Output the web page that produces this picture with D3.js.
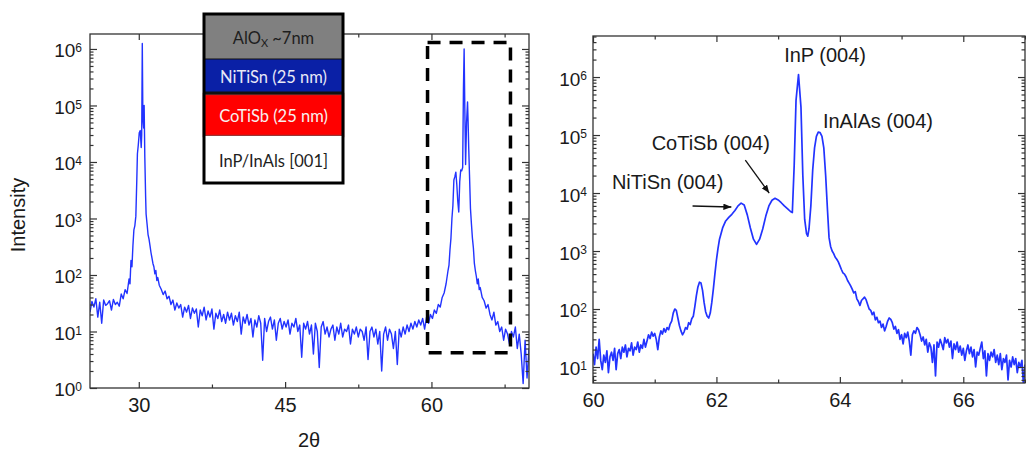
<!DOCTYPE html>
<html>
<head>
<meta charset="utf-8">
<script src="https://cdn.jsdelivr.net/npm/d3@7"></script>
<style>
  body { margin: 0; background: #fff; }
  text { font-family: "Liberation Sans", Arial, sans-serif; fill: #1a1a1a; }
</style>
</head>
<body>
<script>
// ---- data ----
// wide 2θ scan: [2θ, counts]
const surveyScan = [
  [25.0,22],[25.2,34],[25.4,27],[25.6,38],[25.8,18],[26.0,33],[26.2,14],[26.4,36],[26.6,29],[26.8,31],
  [27.0,35],[27.2,24],[27.4,37],[27.6,30],[27.8,33],[28.0,28],[28.2,46],[28.4,38],[28.6,55],[28.8,47],
  [29.0,85],[29.1,70],[29.2,180],[29.3,140],[29.4,330],[29.5,630],[29.6,750],[29.7,1100],[29.8,5000],[29.86,14000],
  [29.95,20000],[30.05,33000],[30.15,36000],[30.25,18000],[30.3,30000],[30.36,1250000],[30.42,60000],[30.5,40000],[30.55,100000],[30.62,12000],
  [30.7,2500],[30.75,1200],[30.85,800],[30.95,520],[31.05,430],[31.15,330],[31.25,250],[31.35,200],[31.45,160],[31.55,140],
  [31.65,105],[31.75,120],[31.85,80],[31.95,90],[32.1,66],[32.3,56],[32.5,45],[32.7,52],[32.9,38],[33.1,42],
  [33.3,30],[33.5,36],[33.7,24],[33.9,32],[34.1,26],[34.3,30],[34.5,18],[34.7,27],[34.9,22],[35.1,29],
  [35.3,17],[35.5,26],[35.7,21],[35.9,25],[36.1,12],[36.3,24],[36.5,19],[36.7,27],[36.9,16],[37.1,23],
  [37.3,18],[37.5,25],[37.7,11],[37.9,21],[38.1,17],[38.3,24],[38.5,15],[38.7,20],[38.9,14],[39.1,22],
  [39.3,16],[39.5,21],[39.7,13],[39.9,19],[40.1,15],[40.3,22],[40.5,9],[40.7,18],[40.9,14],[41.1,20],
  [41.3,13],[41.5,17],[41.7,8],[41.9,16],[42.1,12],[42.3,19],[42.5,14],[42.7,3.1],[42.9,17],[43.1,10],
  [43.3,15],[43.5,18],[43.7,11],[43.9,16],[44.1,7],[44.3,14],[44.5,17],[44.7,11],[44.9,15],[45.1,12],
  [45.3,16],[45.5,9],[45.7,14],[45.9,12],[46.1,17],[46.3,10],[46.5,13],[46.7,3.5],[46.9,14],[47.1,11],
  [47.3,15],[47.5,9],[47.7,13],[47.9,4],[48.1,14],[48.3,10],[48.5,2.3],[48.7,12],[48.9,15],[49.1,9],
  [49.3,12],[49.5,8],[49.7,11],[49.9,13],[50.1,7],[50.3,12],[50.5,9],[50.7,14],[50.9,8],[51.1,11],
  [51.3,10],[51.5,13],[51.7,6],[51.9,11],[52.1,9],[52.3,12],[52.5,8],[52.7,11],[52.9,10],[53.1,7],
  [53.3,12],[53.5,3.2],[53.7,10],[53.9,12],[54.1,8],[54.3,11],[54.5,6],[54.7,10],[54.9,2],[55.1,9],
  [55.3,12],[55.5,7],[55.7,11],[55.9,9],[56.1,5],[56.3,10],[56.5,2.6],[56.7,11],[56.9,8],[57.1,12],
  [57.3,9],[57.5,13],[57.7,10],[57.9,14],[58.1,11],[58.3,15],[58.5,12],[58.7,16],[58.9,13],[59.1,17],
  [59.3,11],[59.5,18],[59.7,14],[59.9,20],[60.1,17],[60.3,24],[60.5,21],[60.7,30],[60.9,27],[61.1,40],
  [61.3,48],[61.5,70],[61.7,120],[61.8,150],[61.9,280],[62.0,450],[62.1,1000],[62.2,1700],[62.3,4800],[62.4,5500],
  [62.5,6600],[62.6,4000],[62.7,2000],[62.8,1300],[62.9,4500],[63.0,7200],[63.1,7000],[63.2,8000],[63.28,200000],[63.35,1000000],
  [63.42,90000],[63.5,9000],[63.6,50000],[63.7,115000],[63.76,50000],[63.82,18000],[63.9,6000],[64.0,1500],[64.1,800],[64.2,450],
  [64.3,300],[64.4,160],[64.5,120],[64.6,95],[64.7,70],[64.8,85],[64.9,55],[65.0,60],[65.2,40],[65.4,35],
  [65.6,26],[65.8,30],[66.0,20],[66.2,16],[66.4,22],[66.6,13],[66.8,15],[67.0,10],[67.2,12],[67.4,7],
  [67.6,11],[67.8,9],[68.0,6],[68.2,10],[68.4,8],[68.6,12],[68.8,5],[69.0,9],[69.2,4],[69.4,1.2],
  [69.6,7],[69.8,1.5],[70.0,5]
];

// fine scan round the (004) reflections: [2θ, counts]
const detailScan = [
  [60.000,17],[60.025,11],[60.050,22],[60.075,14],[60.100,30],[60.125,13],[60.150,9],[60.175,16],[60.200,12],[60.225,19],
  [60.250,8],[60.275,15],[60.300,18],[60.325,13],[60.350,21],[60.375,9],[60.400,17],[60.425,20],[60.450,14],[60.475,22],
  [60.500,18],[60.525,24],[60.550,15],[60.575,21],[60.600,19],[60.625,26],[60.650,16],[60.675,22],[60.700,20],[60.725,27],
  [60.750,18],[60.775,24],[60.800,21],[60.825,30],[60.850,22],[60.875,28],[60.900,36],[60.925,31],[60.950,40],[60.975,34],
  [61.000,38],[61.025,30],[61.050,20],[61.075,33],[61.100,42],[61.125,37],[61.150,46],[61.175,40],[61.200,48],[61.225,44],
  [61.250,55],[61.275,62],[61.300,85],[61.325,100],[61.350,95],[61.375,70],[61.400,52],[61.425,42],[61.450,36],[61.475,40],
  [61.500,48],[61.525,45],[61.550,58],[61.575,54],[61.600,68],[61.625,75],[61.650,110],[61.675,170],[61.700,240],[61.725,290],
  [61.750,280],[61.775,210],[61.800,130],[61.825,90],[61.850,75],[61.875,70],[61.900,85],[61.925,130],[61.950,220],[61.975,400],
  [62.000,700],[62.025,1100],[62.050,1600],[62.100,2500],[62.150,3300],[62.200,3800],[62.250,4300],[62.300,5000],[62.350,6000],[62.400,6700],
  [62.450,6200],[62.500,4200],[62.550,2500],[62.600,1600],[62.650,1300],[62.700,1600],[62.750,2400],[62.800,4000],[62.850,6000],[62.900,7500],
  [62.950,8100],[63.000,7600],[63.050,6800],[63.100,6000],[63.150,5400],[63.200,4800],[63.230,4600],[63.260,30000],[63.290,400000],[63.330,1100000],
  [63.370,300000],[63.400,20000],[63.430,3500],[63.460,2000],[63.480,1800],[63.500,2400],[63.530,6000],[63.560,25000],[63.590,60000],[63.620,95000],
  [63.650,112000],[63.680,110000],[63.710,95000],[63.740,60000],[63.770,20000],[63.800,5000],[63.825,1700],[63.850,1200],[63.875,1000],[63.900,900],
  [63.925,780],[63.950,720],[63.975,650],[64.000,560],[64.025,480],[64.050,420],[64.075,400],[64.100,360],[64.125,310],[64.150,280],
  [64.175,250],[64.200,220],[64.225,190],[64.250,200],[64.275,150],[64.300,135],[64.325,115],[64.350,140],[64.375,150],[64.400,160],
  [64.425,145],[64.450,120],[64.475,100],[64.500,95],[64.525,80],[64.550,88],[64.575,65],[64.600,72],[64.625,58],[64.650,62],
  [64.675,48],[64.700,55],[64.725,42],[64.750,50],[64.775,62],[64.800,70],[64.825,66],[64.850,58],[64.875,45],[64.900,50],
  [64.925,38],[64.950,44],[64.975,30],[65.000,36],[65.025,25],[65.050,38],[65.075,32],[65.100,40],[65.125,28],[65.150,16],
  [65.175,36],[65.200,42],[65.225,38],[65.250,48],[65.275,44],[65.300,36],[65.325,28],[65.350,33],[65.375,24],[65.400,30],
  [65.425,18],[65.450,26],[65.475,22],[65.500,12],[65.525,24],[65.550,7],[65.575,27],[65.600,22],[65.625,30],[65.650,25],
  [65.675,20],[65.700,32],[65.725,26],[65.750,30],[65.775,22],[65.800,28],[65.825,14],[65.850,25],[65.875,20],[65.900,27],
  [65.925,18],[65.950,23],[65.975,16],[66.000,21],[66.025,13],[66.050,19],[66.075,24],[66.100,17],[66.125,22],[66.150,15],
  [66.175,20],[66.200,10],[66.225,18],[66.250,16],[66.275,21],[66.300,27],[66.325,14],[66.350,19],[66.375,7],[66.400,17],
  [66.425,13],[66.450,18],[66.475,15],[66.500,20],[66.525,12],[66.550,16],[66.575,11],[66.600,17],[66.625,9],[66.650,14],
  [66.675,12],[66.700,16],[66.725,6],[66.750,13],[66.775,10],[66.800,15],[66.825,11],[66.850,14],[66.875,8],[66.900,12],
  [66.925,10],[66.950,13],[66.975,5],[67.000,11]
];

const surveyTicks = [30, 45, 60];
const surveyMinor = [37.5, 52.5, 67.5];
const detailTicks = [60, 62, 64, 66];
const detailMinor = [61, 63, 65, 67];
const surveyDecades = [1, 10, 1e2, 1e3, 1e4, 1e5, 1e6];
const detailDecades = [10, 1e2, 1e3, 1e4, 1e5, 1e6];

// 2θ range and intensity range boxed in the survey
const zoomRange = [59.6, 68.1];
const zoomCounts = [4.2, 1.3e6];

const layerNames = ["AlOx ~7nm", "NiTiSn (25 nm)", "CoTiSb (25 nm)", "InP/InAls [001]"];
const peakNames = ["InP (004)", "InAlAs (004)", "CoTiSb (004)", "NiTiSn (004)"];

// ---- layout ----
const W = 1026, H = 450;
const peakLabelAt = [[63.097, 1.82e6], [63.726, 1.32e5], [60.95, 5.5e4], [60.306, 1.17e4]];
const peakArrows = [
  [[61.613, 5970], [62.242, 5740]],
  [[62.468, 37000], [62.855, 10000]]
];
const stack = {x: 204, w: 139, tops: [14, 59, 94, 136], bottoms: [59, 92, 136, 183]};
const layerFill = ["#808080", "#0a20a6", "#ff0000", "#ffffff"];
const layerInk = ["#1e1e1e", "#e8e8f6", "#f8f0f0", "#1e1e1e"];

const svg = d3.select("body").append("svg")
  .attr("width", W).attr("height", H)
  .attr("viewBox", `0 0 ${W} ${H}`);

const defs = svg.append("defs");
defs.append("marker")
  .attr("id", "head")
  .attr("viewBox", "0 0 10 8")
  .attr("refX", 10).attr("refY", 4)
  .attr("markerWidth", 8).attr("markerHeight", 6.4)
  .attr("markerUnits", "userSpaceOnUse")
  .attr("orient", "auto")
  .append("path").attr("d", "M0,0L10,4L0,8z").attr("fill", "#111");

const isDecade = v => Math.abs(Math.log10(v) - Math.round(Math.log10(v))) < 1e-6;

function drawPanel({x, y, scan, ticks, minor, decades, id, width, pad}) {
  const [x0, x1] = x.range();
  const [y0, y1] = y.range();
  const g = svg.append("g");

  defs.append("clipPath").attr("id", id)
    .append("rect").attr("x", x0).attr("y", y1).attr("width", x1 - x0).attr("height", y0 - y1);

  const line = d3.line().x(d => x(d[0])).y(d => y(d[1]));
  g.append("path")
    .datum(scan)
    .attr("clip-path", `url(#${id})`)
    .attr("fill", "none")
    .attr("stroke", "#2233ff")
    .attr("stroke-width", width)
    .attr("stroke-linejoin", "round")
    .attr("d", line);

  const minorY = y.ticks().filter(v => !isDecade(v));

  const put = (axis, tr) => g.append("g")
    .attr("transform", tr)
    .call(axis)
    .call(s => s.select(".domain").remove())
    .call(s => s.selectAll("line").attr("stroke", "#333").attr("stroke-width", 1.2));

  const bottom = put(d3.axisBottom(x).tickValues(ticks).tickSizeInner(-6).tickSizeOuter(0)
    .tickPadding(10).tickFormat(d3.format("d")), `translate(0,${y0})`);
  bottom.attr("font-size", 20);
  put(d3.axisBottom(x).tickValues(minor).tickSizeInner(-3.5).tickSizeOuter(0).tickFormat(""), `translate(0,${y0})`);
  put(d3.axisTop(x).tickValues(ticks).tickSizeInner(-6).tickSizeOuter(0).tickFormat(""), `translate(0,${y1})`);
  put(d3.axisTop(x).tickValues(minor).tickSizeInner(-3.5).tickSizeOuter(0).tickFormat(""), `translate(0,${y1})`);

  const left = put(d3.axisLeft(y).tickValues(decades).tickSizeInner(-7).tickSizeOuter(0)
    .tickPadding(pad).tickFormat(""), `translate(${x0},0)`);
  left.attr("font-size", 19);
  left.selectAll(".tick text")
    .attr("dy", "0.42em")
    .call(t => {
      t.append("tspan").text("10");
      t.append("tspan").attr("font-size", 12).attr("dy", "-0.45em")
        .text(d => Math.round(Math.log10(d)));
    });
  put(d3.axisLeft(y).tickValues(minorY).tickSizeInner(-3.5).tickSizeOuter(0).tickFormat(""), `translate(${x0},0)`);
  put(d3.axisRight(y).tickValues(decades).tickSizeInner(-7).tickSizeOuter(0).tickFormat(""), `translate(${x1},0)`);
  put(d3.axisRight(y).tickValues(minorY).tickSizeInner(-3.5).tickSizeOuter(0).tickFormat(""), `translate(${x1},0)`);

  g.append("rect")
    .attr("x", x0).attr("y", y1).attr("width", x1 - x0).attr("height", y0 - y1)
    .attr("fill", "none").attr("stroke", "#333").attr("stroke-width", 1.3);
  return g;
}

// ---- survey panel ----
const xS = d3.scaleLinear().domain([25, 70]).range([90, 529]);
const yS = d3.scaleLog().domain([1, 1.84e6]).range([388, 34]);
const survey = drawPanel({x: xS, y: yS, scan: surveyScan, ticks: surveyTicks, minor: surveyMinor,
  decades: surveyDecades, id: "clipS", width: 1.4, pad: 8});

survey.append("rect")
  .attr("x", xS(zoomRange[0])).attr("y", yS(zoomCounts[1]))
  .attr("width", xS(zoomRange[1]) - xS(zoomRange[0]))
  .attr("height", yS(zoomCounts[0]) - yS(zoomCounts[1]))
  .attr("fill", "none").attr("stroke", "#000").attr("stroke-width", 3.5)
  .attr("stroke-dasharray", "13,9");

svg.append("text")
  .attr("transform", "translate(25,215) rotate(-90)")
  .attr("text-anchor", "middle").attr("font-size", 20)
  .text("Intensity");
svg.append("text")
  .attr("x", 309).attr("y", 447)
  .attr("text-anchor", "middle").attr("font-size", 20)
  .text("2θ");

// ---- layer stack inset ----
const inset = svg.append("g");
layerNames.forEach((name, i) => {
  const top = stack.tops[i], bot = stack.bottoms[i];
  inset.append("rect")
    .attr("x", stack.x).attr("y", top).attr("width", stack.w).attr("height", bot - top)
    .attr("fill", layerFill[i])
    .attr("stroke", i === 2 ? "#9b3636" : "none").attr("stroke-width", i === 2 ? 2.5 : 0);
  const t = inset.append("text")
    .attr("x", stack.x + stack.w / 2).attr("y", (top + bot) / 2 + 1)
    .attr("text-anchor", "middle").attr("dominant-baseline", "central")
    .style("font-family", "Lato, 'Open Sans', sans-serif").attr("font-size", 16.5)
    .style("fill", layerInk[i]);
  if (name.startsWith("AlOx")) {
    t.append("tspan").text("AlO");
    t.append("tspan").attr("font-size", 11).attr("dy", 4).text("X");
    t.append("tspan").attr("dy", -4).text(name.slice(4));
  } else {
    t.text(name);
  }
});
inset.append("line")
  .attr("x1", stack.x).attr("x2", stack.x + stack.w).attr("y1", 59).attr("y2", 59)
  .attr("stroke", "#111").attr("stroke-width", 1.2);
inset.append("line")
  .attr("x1", stack.x).attr("x2", stack.x + stack.w).attr("y1", 93).attr("y2", 93)
  .attr("stroke", "#111").attr("stroke-width", 3);
inset.append("rect")
  .attr("x", stack.x).attr("y", stack.tops[0]).attr("width", stack.w)
  .attr("height", stack.bottoms[3] - stack.tops[0])
  .attr("fill", "none").attr("stroke", "#000").attr("stroke-width", 3);

// ---- detail panel ----
const xD = d3.scaleLinear().domain([60, 67]).range([593, 1025]);
const yD = d3.scaleLog().domain([5.3, 5.1e6]).range([383, 36]);
const detail = drawPanel({x: xD, y: yD, scan: detailScan, ticks: detailTicks, minor: detailMinor,
  decades: detailDecades, id: "clipD", width: 1.7, pad: 6});

detail.selectAll(".peak")
  .data(peakNames)
  .join("text")
  .attr("class", "peak")
  .attr("x", (d, i) => xD(peakLabelAt[i][0]))
  .attr("y", (d, i) => yD(peakLabelAt[i][1]))
  .attr("font-size", 20)
  .text(d => d);

detail.selectAll(".arrow")
  .data(peakArrows)
  .join("line")
  .attr("class", "arrow")
  .attr("x1", d => xD(d[0][0])).attr("y1", d => yD(d[0][1]))
  .attr("x2", d => xD(d[1][0])).attr("y2", d => yD(d[1][1]))
  .attr("stroke", "#111").attr("stroke-width", 1.3)
  .attr("marker-end", "url(#head)");
</script>
</body>
</html>
